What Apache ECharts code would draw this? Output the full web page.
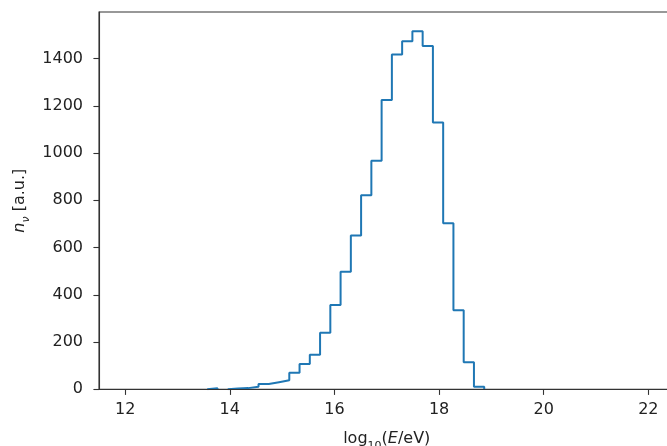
<!DOCTYPE html>
<html>
<head>
<meta charset="utf-8">
<script src="https://cdn.jsdelivr.net/npm/echarts@6/dist/echarts.min.js"></script>
<style>
  html, body { margin: 0; padding: 0; background: #fff; }
  #chart { width: 667px; height: 446px; }
</style>
</head>
<body>
<div id="chart"></div>
<script>
// Histogram binning: 51 bins spanning log10(E/eV) = 12 .. 22
const binStart = 12;
const binEnd = 22;
const binCount = 51;
// counts per bin (n_nu, a.u.)
const counts = [
  0, 0, 0, 0, 0, 0, 0, 0, 4, 0,
  3, 5, 11, 22, 30, 38, 70, 107, 146, 239,
  357, 498, 651, 821, 967, 1224, 1417, 1473, 1516, 1453,
  1129, 703, 335, 115, 11, 0, 0, 0, 0, 0,
  0, 0, 0, 0, 0, 0, 0, 0, 0, 0,
  0
];
const xTicks = [12, 14, 16, 18, 20, 22];
const yTicks = [0, 200, 400, 600, 800, 1000, 1200, 1400];
const xRange = [11.5, 22.5];
const yRange = [0, 1597];

// Build the step outline (zero-valued runs lie on the bottom spine and are hidden there)
const binWidth = (binEnd - binStart) / binCount;
const stepData = [];
for (let i = 0; i < counts.length; i++) {
  const x0 = binStart + i * binWidth;
  const x1 = binStart + (i + 1) * binWidth;
  const c = counts[i];
  const prev = i > 0 ? counts[i - 1] : 0;
  if (c > 0) {
    if (prev === 0) stepData.push([x0, 0]);
    stepData.push([x0, c]);
    stepData.push([x1, c]);
  } else {
    if (prev > 0) stepData.push([x0, 0]);
    stepData.push([x0, null]);
  }
}

const FONT = 'DejaVu Sans';
const txt = '#222';

const chart = echarts.init(document.getElementById('chart'), null, { renderer: 'canvas' });
chart.setOption({
  animation: false,
  backgroundColor: '#fff',
  grid: {
    left: 99, top: 12, width: 575.5, height: 377.3,
    outerBoundsMode: 'none',
    containLabel: false,
    show: true, borderColor: '#333', borderWidth: 1.1, backgroundColor: 'transparent'
  },
  xAxis: {
    type: 'value',
    min: xRange[0], max: xRange[1],
    z: 5,
    name: '{r|log}{s|10}{r|(}{i|E}{r|/eV)}',
    nameLocation: 'middle',
    nameGap: 38,
    nameTextStyle: {
      fontFamily: FONT, color: txt, fontSize: 16,
      rich: {
        r: { fontFamily: FONT, color: txt, fontSize: 16, lineHeight: 24, verticalAlign: 'middle' },
        i: { fontFamily: FONT, color: txt, fontSize: 16, fontStyle: 'italic', lineHeight: 24, verticalAlign: 'middle' },
        s: { fontFamily: FONT, color: txt, fontSize: 11, lineHeight: 12, verticalAlign: 'bottom' }
      }
    },
    splitLine: { show: false },
    axisLine: { show: true, onZero: false, lineStyle: { color: '#333', width: 1.1 } },
    axisTick: { show: true, length: 5.6, customValues: xTicks, lineStyle: { color: '#333', width: 1.1 } },
    axisLabel: { show: true, customValues: xTicks, margin: 13, fontFamily: FONT, fontSize: 16, color: txt }
  },
  yAxis: {
    type: 'value',
    min: yRange[0], max: yRange[1],
    name: '{i|n}{s|ν}{r| [a.u.]}',
    nameLocation: 'middle',
    nameRotate: 90,
    nameGap: 61,
    nameTextStyle: {
      fontFamily: FONT, color: txt, fontSize: 16,
      rich: {
        r: { fontFamily: FONT, color: txt, fontSize: 16, lineHeight: 24, verticalAlign: 'middle' },
        i: { fontFamily: FONT, color: txt, fontSize: 16, fontStyle: 'italic', lineHeight: 24, verticalAlign: 'middle' },
        s: { fontFamily: FONT, color: txt, fontSize: 11, fontStyle: 'italic', lineHeight: 12, verticalAlign: 'bottom' }
      }
    },
    splitLine: { show: false },
    axisLine: { show: true, lineStyle: { color: '#333', width: 1.1 } },
    axisTick: { show: true, length: 5.6, customValues: yTicks, lineStyle: { color: '#333', width: 1.1 } },
    axisLabel: {
      show: true, customValues: yTicks, margin: 16, fontFamily: FONT, fontSize: 16, color: txt,
      formatter: v => String(v)
    }
  },
  series: [{
    type: 'line',
    data: stepData,
    connectNulls: false,
    showSymbol: false,
    symbol: 'none',
    z: 2,
    lineStyle: { color: '#1f77b4', width: 2 }
  }]
});
</script>
</body>
</html>
